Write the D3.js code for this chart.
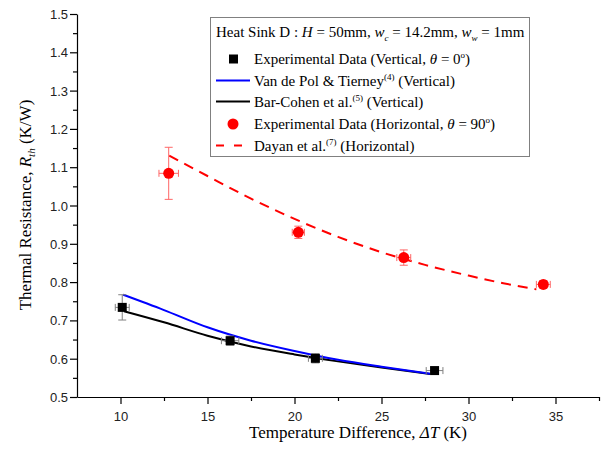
<!DOCTYPE html>
<html>
<head>
<meta charset="utf-8">
<script src="https://cdn.jsdelivr.net/npm/d3@7/dist/d3.min.js"></script>
<style>
  body { margin: 0; background: #fff; }
  svg { display: block; }
</style>
</head>
<body>
<svg id="chart" width="606" height="462"></svg>
<script>
// Experimental data, vertical orientation (theta = 0)
const vertX = [10.1, 16.3, 21.2, 28.05];
const vertY = [0.734, 0.647, 0.601, 0.569];
const vertErrX = [0.4, 0.5, 0.4, 0.48];
const vertErrY = [0.033, 0.012, 0.012, 0.008];

// Experimental data, horizontal orientation (theta = 90)
const horX = [12.77, 20.22, 26.28, 34.3];
const horY = [1.084, 0.930, 0.864, 0.794];
const horErrX = [0.56, 0.35, 0.4, 0.4];
const horErrY = [0.068, 0.016, 0.02, 0.01];

// Correlations
const vanDePolX = [10.15, 12.5, 15, 17.5, 20, 22.5, 25, 27.8];
const vanDePolY = [0.767, 0.727, 0.682, 0.647, 0.620, 0.597, 0.579, 0.561];
const barCohenX = [10.2, 12.5, 15, 17.5, 20, 22.5, 25, 27.8];
const barCohenY = [0.724, 0.695, 0.660, 0.632, 0.611, 0.593, 0.577, 0.560];
const dayanX = [12.8, 15, 17.5, 20, 22.5, 25, 27.5, 30, 32, 33.9];
const dayanY = [1.13, 1.077, 1.018, 0.965, 0.918, 0.878, 0.845, 0.817, 0.797, 0.781];

const xTicks = [10, 15, 20, 25, 30, 35];
const yTicks = [0.5, 0.6, 0.7, 0.8, 0.9, 1.0, 1.1, 1.2, 1.3, 1.4, 1.5];

const serif = "'Liberation Serif', 'Times New Roman', serif";
const sans = "'Liberation Sans', Arial, sans-serif";

const svg = d3.select("#chart");

const x = d3.scaleLinear().domain([7.5, 37.5]).range([77, 599]);
const y = d3.scaleLinear().domain([0.5, 1.5]).range([397, 14]);

// Axes
const xAxis = svg.append("g").attr("transform", "translate(0,397)")
  .call(d3.axisBottom(x).tickValues(xTicks).tickSize(7).tickSizeOuter(0).tickFormat(d3.format("d")));
svg.append("g").attr("transform", "translate(0,397)")
  .call(d3.axisBottom(x).tickValues(d3.range(12.5, 37.6, 5)).tickSize(4).tickSizeOuter(0).tickFormat(""))
  .select(".domain").remove();

const yAxis = svg.append("g").attr("transform", "translate(77,0)")
  .call(d3.axisLeft(y).tickValues(yTicks).tickSize(7).tickSizeOuter(0).tickFormat(d3.format(".1f")));
svg.append("g").attr("transform", "translate(77,0)")
  .call(d3.axisLeft(y).tickValues(d3.range(0.55, 1.5, 0.1)).tickSize(4).tickSizeOuter(0).tickFormat(""))
  .select(".domain").remove();

svg.selectAll(".tick line, .domain").attr("stroke", "#000").attr("stroke-width", 1.2);
xAxis.selectAll("text").attr("font-family", sans).attr("font-size", 13).attr("dy", "1.05em").attr("fill", "#222");
yAxis.selectAll("text").attr("font-family", sans).attr("font-size", 13).attr("dy", "0.35em").attr("x", -9).attr("fill", "#222");

// Axis titles
const xTitle = svg.append("text")
  .attr("x", 358).attr("y", 438)
  .attr("text-anchor", "middle")
  .attr("font-family", serif).attr("font-size", 17);
xTitle.append("tspan").text("Temperature Difference, ");
xTitle.append("tspan").attr("font-style", "italic").text("ΔT");
xTitle.append("tspan").text(" (K)");

const yTitle = svg.append("text")
  .attr("transform", "translate(31,205) rotate(-90)")
  .attr("text-anchor", "middle")
  .attr("font-family", serif).attr("font-size", 17);
yTitle.append("tspan").text("Thermal Resistance, ");
yTitle.append("tspan").attr("font-style", "italic").text("R");
yTitle.append("tspan").attr("font-style", "italic").attr("font-size", 11).attr("dy", 4).text("th");
yTitle.append("tspan").attr("dy", -4).text(" (K/W)");

// Correlation curves
const line = d3.line().x(d => x(d[0])).y(d => y(d[1])).curve(d3.curveMonotoneX);

svg.append("path")
  .datum(d3.zip(dayanX, dayanY))
  .attr("d", line)
  .attr("fill", "none")
  .attr("stroke", "#ff0000")
  .attr("stroke-width", 2)
  .attr("stroke-dasharray", "10,7");

svg.append("path")
  .datum(d3.zip(barCohenX, barCohenY))
  .attr("d", line)
  .attr("fill", "none")
  .attr("stroke", "#000")
  .attr("stroke-width", 2);

svg.append("path")
  .datum(d3.zip(vanDePolX, vanDePolY))
  .attr("d", line)
  .attr("fill", "none")
  .attr("stroke", "#0000ff")
  .attr("stroke-width", 2);

// Error bars
function errorBars(xs, ys, ex, ey, color) {
  const g = svg.append("g").attr("stroke", color).attr("stroke-width", 1).attr("fill", "none");
  xs.forEach((xv, i) => {
    const cx = x(xv), cy = y(ys[i]);
    const x0 = x(xv - ex[i]), x1 = x(xv + ex[i]);
    const y0 = y(ys[i] - ey[i]), y1 = y(ys[i] + ey[i]);
    g.append("line").attr("x1", x0).attr("x2", x1).attr("y1", cy).attr("y2", cy);
    g.append("line").attr("x1", x0).attr("x2", x0).attr("y1", cy - 3.5).attr("y2", cy + 3.5);
    g.append("line").attr("x1", x1).attr("x2", x1).attr("y1", cy - 3.5).attr("y2", cy + 3.5);
    g.append("line").attr("x1", cx).attr("x2", cx).attr("y1", y0).attr("y2", y1);
    g.append("line").attr("x1", cx - 4).attr("x2", cx + 4).attr("y1", y0).attr("y2", y0);
    g.append("line").attr("x1", cx - 4).attr("x2", cx + 4).attr("y1", y1).attr("y2", y1);
  });
}
errorBars(vertX, vertY, vertErrX, vertErrY, "#808080");
errorBars(horX, horY, horErrX, horErrY, "#ff6666");

// Markers
svg.selectAll(".sq")
  .data(d3.zip(vertX, vertY))
  .enter().append("rect")
  .attr("class", "sq")
  .attr("x", d => x(d[0]) - 4.5)
  .attr("y", d => y(d[1]) - 4.5)
  .attr("width", 9).attr("height", 9)
  .attr("fill", "#000");

svg.selectAll(".dot")
  .data(d3.zip(horX, horY))
  .enter().append("circle")
  .attr("class", "dot")
  .attr("cx", d => x(d[0]))
  .attr("cy", d => y(d[1]))
  .attr("r", 5.5)
  .attr("fill", "#ff0000");

// Legend
const legend = svg.append("g").attr("font-family", serif).attr("font-size", 15);
legend.append("rect")
  .attr("x", 210.5).attr("y", 17.5).attr("width", 319).attr("height", 139)
  .attr("fill", "#fff").attr("stroke", "#808080").attr("stroke-width", 1);

const head = legend.append("text").attr("x", 216).attr("y", 37);
head.append("tspan").text("Heat Sink D : ");
head.append("tspan").attr("font-style", "italic").text("H");
head.append("tspan").text(" = 50mm, ");
head.append("tspan").attr("font-style", "italic").text("w");
head.append("tspan").attr("font-style", "italic").attr("font-size", 9).attr("dy", 4).text("c");
head.append("tspan").attr("dy", -4).text(" = 14.2mm, ");
head.append("tspan").attr("font-style", "italic").text("w");
head.append("tspan").attr("font-style", "italic").attr("font-size", 9).attr("dy", 4).text("w");
head.append("tspan").attr("dy", -4).text(" = 1mm");

const rowY = [59, 80.5, 101.5, 124, 145.5];

legend.append("rect").attr("x", 229).attr("y", rowY[0] - 4.5).attr("width", 9).attr("height", 9).attr("fill", "#000");
legend.append("line").attr("x1", 216).attr("x2", 250).attr("y1", rowY[1]).attr("y2", rowY[1]).attr("stroke", "#0000ff").attr("stroke-width", 2);
legend.append("line").attr("x1", 216).attr("x2", 250).attr("y1", rowY[2]).attr("y2", rowY[2]).attr("stroke", "#000").attr("stroke-width", 2);
legend.append("circle").attr("cx", 233).attr("cy", rowY[3]).attr("r", 5.5).attr("fill", "#ff0000");
legend.append("line").attr("x1", 216).attr("x2", 250).attr("y1", rowY[4]).attr("y2", rowY[4]).attr("stroke", "#ff0000").attr("stroke-width", 2).attr("stroke-dasharray", "8,10");

function row(i) {
  return legend.append("text").attr("x", 254).attr("y", rowY[i] + 5);
}
let t = row(0);
t.append("tspan").text("Experimental Data (Vertical, ");
t.append("tspan").attr("font-style", "italic").text("θ");
t.append("tspan").text(" = 0");
t.append("tspan").attr("font-size", 9).attr("dy", -6).text("o");
t.append("tspan").attr("dy", 6).text(")");

t = row(1);
t.append("tspan").text("Van de Pol & Tierney");
t.append("tspan").attr("font-size", 9).attr("dy", -6).text("(4)");
t.append("tspan").attr("dy", 6).text(" (Vertical)");

t = row(2);
t.append("tspan").text("Bar-Cohen et al.");
t.append("tspan").attr("font-size", 9).attr("dy", -6).text("(5)");
t.append("tspan").attr("dy", 6).text(" (Vertical)");

t = row(3);
t.append("tspan").text("Experimental Data (Horizontal, ");
t.append("tspan").attr("font-style", "italic").text("θ");
t.append("tspan").text(" = 90");
t.append("tspan").attr("font-size", 9).attr("dy", -6).text("o");
t.append("tspan").attr("dy", 6).text(")");

t = row(4);
t.append("tspan").text("Dayan et al.");
t.append("tspan").attr("font-size", 9).attr("dy", -6).text("(7)");
t.append("tspan").attr("dy", 6).text(" (Horizontal)");
</script>
</body>
</html>
